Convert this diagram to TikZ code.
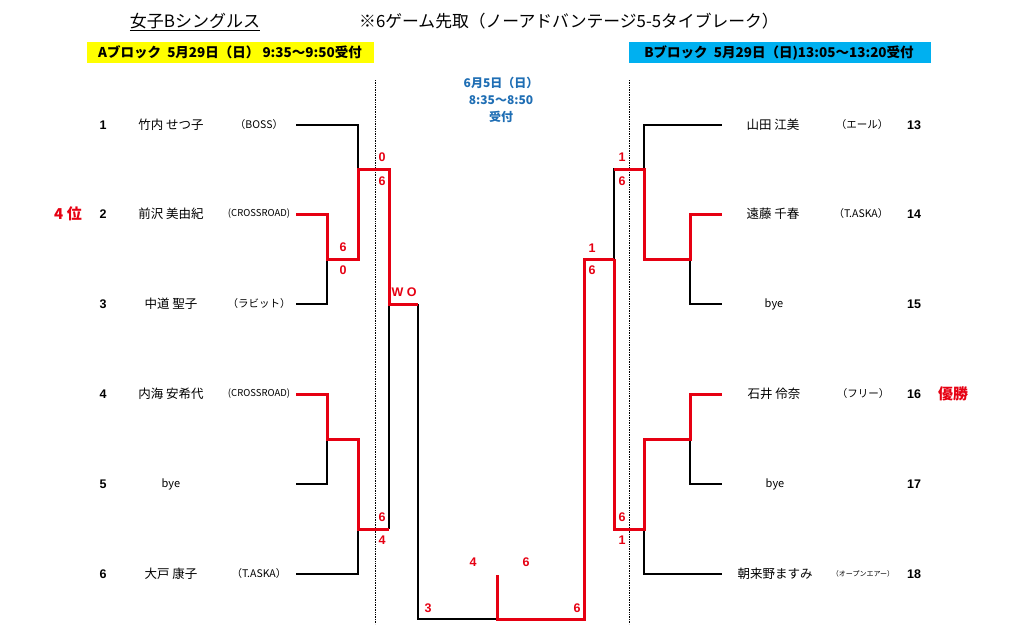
\documentclass[tikz,border=0pt]{standalone}
\usepackage{fontspec}
\setmainfont{Noto Sans CJK JP}
\newfontfamily\arialfont{Liberation Sans}
\usepackage{xcolor}
\definecolor{resred}{RGB}{230,0,18}
\definecolor{hdyellow}{RGB}{255,255,0}
\definecolor{hdcyan}{RGB}{0,176,240}
\definecolor{dayblue}{RGB}{31,110,180}

\begin{document}
\begin{tikzpicture}[x=1pt,y=-1pt,
  blkline/.style={line width=1.8pt},
  redline/.style={line width=3pt,draw=resred},
  sepline/.style={line width=0.7pt,densely dotted},
  seed/.style={font=\arialfont\bfseries\fontsize{12.5}{14}\selectfont},
  player/.style={font=\fontsize{12.5}{14}\selectfont},
  byeplayer/.style={font=\fontsize{11}{13}\selectfont},
  club/.style={font=\fontsize{10.5}{12}\selectfont},
  tinyclub/.style={font=\fontsize{9.5}{11}\selectfont},
  score/.style={text=resred,font=\arialfont\bfseries\fontsize{12.5}{14}\selectfont},
  header/.style={font=\bfseries\fontsize{13.5}{15}\selectfont},
  rank/.style={text=resred,font=\bfseries\fontsize{15}{17}\selectfont}]

\useasboundingbox (0,0) rectangle (1020,624);

\node[font=\fontsize{17}{19}\selectfont] (title) at (195,22) {\underline{女子Bシングルス}};
\node[font=\fontsize{16.8}{19}\selectfont] (rule) at (569,21) {※6ゲーム先取（ノーアドバンテージ5-5タイブレーク）};

\fill[hdyellow] (87,42) rectangle (374,63);
\node[header] (hdA) at (230,52.5) {Aブロック\ \ 5月29日（日） 9:35～9:50受付};
\fill[hdcyan] (629,42) rectangle (931,63);
\node[header] (hdB) at (779,52.5) {Bブロック\ \ 5月29日（日)13:05～13:20受付};

\node[text=dayblue,align=center,font=\bfseries\fontsize{12}{17}\selectfont] (day) at (501,100) {6月5日（日）\\8:35～8:50\\受付};

\draw[sepline] (375,80) -- (375,624);
\draw[sepline] (629,80) -- (629,624);

% A block
\node[seed] (n1) at (103,125) {1};
\node[player] (p1) at (171,125) {竹内 せつ子};
\node[club] (c1) at (259,125) {（BOSS）};
\node[seed] (n2) at (103,214) {2};
\node[player] (p2) at (171,214) {前沢 美由紀};
\node[tinyclub] (c2) at (259,214) {(CROSSROAD)};
\node[seed] (n3) at (103,304) {3};
\node[player] (p3) at (171,304) {中道 聖子};
\node[club] (c3) at (259,304) {（ラビット）};
\node[seed] (n4) at (103,394) {4};
\node[player] (p4) at (171,394) {内海 安希代};
\node[tinyclub] (c4) at (259,394) {(CROSSROAD)};
\node[seed] (n5) at (103,484) {5};
\node[byeplayer] (p5) at (171,484) {bye};
\node[seed] (n6) at (103,574) {6};
\node[player] (p6) at (171,574) {大戸 康子};
\node[club] (c6) at (259,574) {（T.ASKA）};
\node[rank] (fourth) at (68,214) {4 位};

% B block
\node[player] (p13) at (773,125) {山田 江美};
\node[club] (c13) at (862,125) {（エール）};
\node[seed] (n13) at (914,125) {13};
\node[player] (p14) at (773,214) {遠藤 千春};
\node[club] (c14) at (861,214) {（T.ASKA）};
\node[seed] (n14) at (914,214) {14};
\node[byeplayer] (p15) at (774,304) {bye};
\node[seed] (n15) at (914,304) {15};
\node[player] (p16) at (774,394) {石井 伶奈};
\node[club] (c16) at (863,394) {（フリー）};
\node[seed] (n16) at (914,394) {16};
\node[byeplayer] (p17) at (775,484) {bye};
\node[seed] (n17) at (914,484) {17};
\node[player] (p18) at (775,574) {朝来野ますみ};
\node[font=\fontsize{7}{8}\selectfont] (c18) at (863,574) {（オープンエアー）};
\node[seed] (n18) at (914,574) {18};
\node[rank] (champ) at (953,394) {優勝};

% line ends
\coordinate (a1) at (296,125);
\coordinate (a2) at (296,214);
\coordinate (a3) at (296,304);
\coordinate (a4) at (296,394);
\coordinate (a5) at (296,484);
\coordinate (a6) at (296,574);
\coordinate (b13) at (722,125);
\coordinate (b14) at (722,214);
\coordinate (b15) at (722,304);
\coordinate (b16) at (722,394);
\coordinate (b17) at (722,484);
\coordinate (b18) at (722,574);

% joins
\coordinate (j23) at (327,259);
\coordinate (j45) at (327,439);
\coordinate (k1) at (358,169);
\coordinate (k2) at (358,529);
\coordinate (k2e) at (389,529);
\coordinate (semiA) at (389,304);
\coordinate (woA) at (418,304);
\coordinate (fin) at (497,619);
\coordinate (fintop) at (497,575);
\coordinate (semiB) at (584,259);
\coordinate (sB) at (614,259);
\coordinate (k3) at (644,169);
\coordinate (k4) at (644,529);
\coordinate (j1415) at (690,259);
\coordinate (j1617) at (690,439);

\draw[blkline] (a1) -| (k1);
\draw[blkline] (a3) -| (j23);
\draw[blkline] (a5) -| (j45);
\draw[blkline] (a6) -| (k2);
\draw[blkline] (k2e) -- (semiA);
\draw[blkline] (woA) |- (fin);
\draw[blkline] (sB) |- (k3);
\draw[blkline] (k3) |- (b13);
\draw[blkline] (j1415) |- (b15);
\draw[blkline] (j1617) |- (b17);
\draw[blkline] (k4) |- (b18);

\draw[redline] (a2) -| (j23) -| (k1) -| (semiA) -- (woA);
\draw[redline] (a4) -| (j45) -| (k2) -- (k2e);
\draw[redline] (fintop) -- (fin) -| (semiB) -- (sB);
\draw[redline] (sB |- k3) -- (k3) |- (j1415) |- (b14);
\draw[redline] (sB) |- (k4) |- (j1617) |- (b16);

% scores
\node[score] (s1a) at (382,157) {0};
\node[score] (s1b) at (382,181) {6};
\node[score] (s23a) at (343,247) {6};
\node[score] (s23b) at (343,270) {0};
\node[score] (s56a) at (382,517) {6};
\node[score] (s56b) at (382,540) {4};
\node[score] (wo) at (404,292) {W O};
\node[score] (sfa) at (473,562) {4};
\node[score] (sfb) at (526,562) {6};
\node[score] (sfc) at (428,608) {3};
\node[score] (sfd) at (577,608) {6};
\node[score] (sBa) at (592,248) {1};
\node[score] (sBb) at (592,270) {6};
\node[score] (s13a) at (622,157) {1};
\node[score] (s13b) at (622,181) {6};
\node[score] (s18a) at (622,517) {6};
\node[score] (s18b) at (622,540) {1};

\end{tikzpicture}
\end{document}
